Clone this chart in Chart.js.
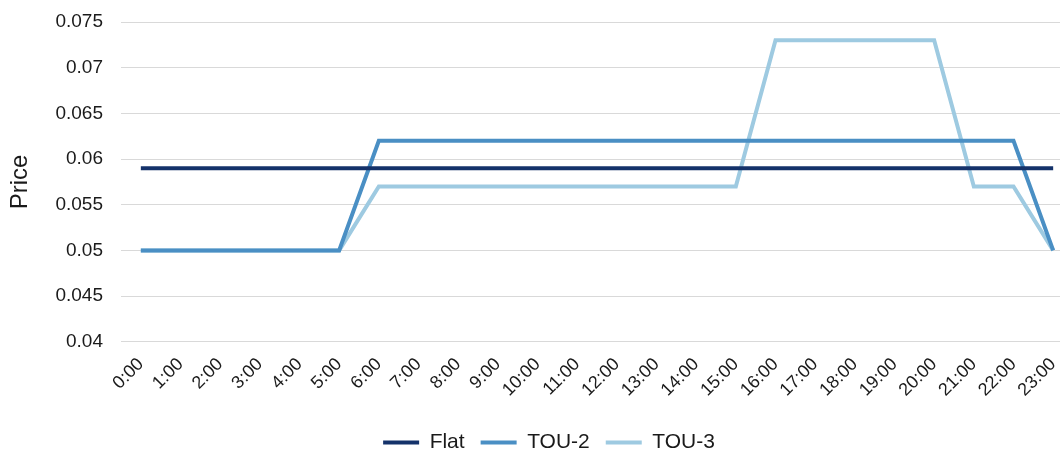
<!DOCTYPE html>
<html>
<head>
<meta charset="utf-8">
<script src="https://cdn.jsdelivr.net/npm/chart.js@4.4.1/dist/chart.umd.min.js"></script>
<style>
  html, body { margin: 0; padding: 0; background: #ffffff; overflow: hidden; }
  #wrap { width: 1060px; height: 458px; overflow: hidden; position: relative; }
  canvas { display: block; }
</style>
</head>
<body>
<div id="wrap"><canvas id="chart" width="1098" height="463" style="width:1098px;height:463px"></canvas></div>
<script>
// Hourly price schedules
const hours = ['0:00','1:00','2:00','3:00','4:00','5:00','6:00','7:00','8:00','9:00','10:00','11:00',
               '12:00','13:00','14:00','15:00','16:00','17:00','18:00','19:00','20:00','21:00','22:00','23:00'];

const flat = [0.059,0.059,0.059,0.059,0.059,0.059,0.059,0.059,0.059,0.059,0.059,0.059,
              0.059,0.059,0.059,0.059,0.059,0.059,0.059,0.059,0.059,0.059,0.059,0.059];

const tou2 = [0.05,0.05,0.05,0.05,0.05,0.05,0.062,0.062,0.062,0.062,0.062,0.062,
              0.062,0.062,0.062,0.062,0.062,0.062,0.062,0.062,0.062,0.062,0.062,0.05];

const tou3 = [0.05,0.05,0.05,0.05,0.05,0.05,0.057,0.057,0.057,0.057,0.057,0.057,
              0.057,0.057,0.057,0.057,0.073,0.073,0.073,0.073,0.073,0.057,0.057,0.05];

const seriesNames = ['Flat', 'TOU-2', 'TOU-3'];
const seriesColors = ['#14326a', '#4a8fc4', '#9ecae1'];
const yMin = 0.04, yMax = 0.075, yStep = 0.005;

const FONT = 'Liberation Sans, Arial, sans-serif';
const TEXT = '#1a1a1a';

function lineSet(label, data, color) {
  return {
    label: label,
    data: data,
    borderColor: color,
    backgroundColor: color,
    borderWidth: 4,
    pointRadius: 0,
    pointHoverRadius: 0,
    tension: 0,
    fill: false,
    pointStyle: 'line'
  };
}

new Chart(document.getElementById('chart'), {
  type: 'line',
  data: {
    labels: hours,
    datasets: [
      lineSet(seriesNames[0], flat, seriesColors[0]),
      lineSet(seriesNames[1], tou2, seriesColors[1]),
      lineSet(seriesNames[2], tou3, seriesColors[2])
    ]
  },
  options: {
    responsive: false,
    animation: false,
    devicePixelRatio: 1,
    layout: { padding: { left: 25, right: 25, top: 22, bottom: 0 } },
    plugins: {
      tooltip: { enabled: false },
      legend: {
        position: 'bottom',
        labels: {
          usePointStyle: true,
          pointStyleWidth: 36,
          padding: 16,
          color: TEXT,
          font: { family: FONT, size: 21 }
        }
      }
    },
    scales: {
      x: {
        offset: true,
        grid: { display: false, drawTicks: false },
        border: { display: false },
        ticks: {
          autoSkip: false,
          maxRotation: 45,
          minRotation: 45,
          padding: 12,
          color: TEXT,
          font: { family: FONT, size: 18 }
        },
        afterFit: function (scale) {
          scale.height = 74.2;
          scale.paddingLeft = 0;
          scale.paddingRight = 0;
        }
      },
      y: {
        min: yMin,
        max: yMax,
        grid: { color: '#d9d9d9', lineWidth: 1, drawTicks: false },
        border: { display: false },
        ticks: {
          stepSize: yStep,
          padding: 18,
          color: TEXT,
          font: { family: FONT, size: 19 },
          callback: function (v) { return String(parseFloat(Number(v).toFixed(3))); }
        },
        title: {
          display: true,
          text: 'Price',
          color: TEXT,
          font: { family: FONT, size: 24 },
          padding: { top: -19.4, bottom: 0 }
        },
        afterFit: function (scale) {
          scale.width = 96;
          scale.paddingTop = 0;
          scale.paddingBottom = 0;
        }
      }
    }
  }
});
</script>
</body>
</html>
